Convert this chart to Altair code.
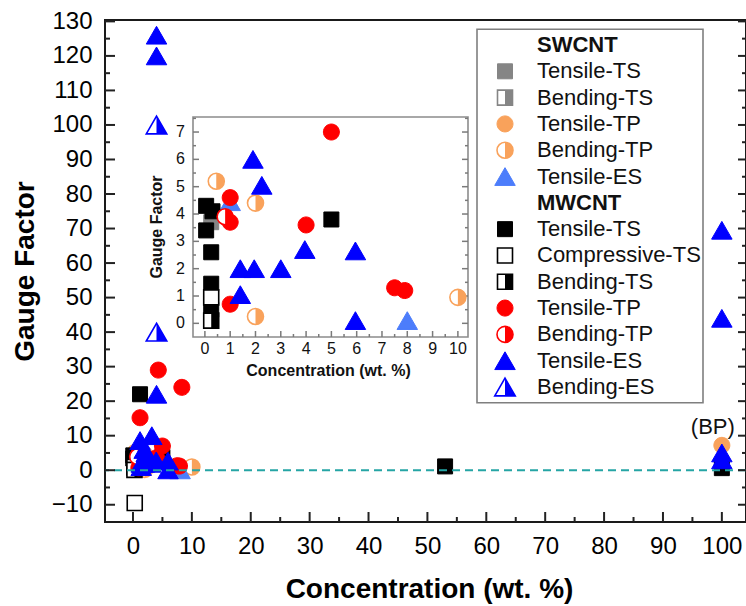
import altair as alt
import pandas as pd

# Gauge factor vs. CNT concentration (wt. %) by composite type and loading mode.
# --- SWCNT composites ---
SW_TENSILE_TS_X = [0.25]
SW_TENSILE_TS_Y = [3.7]
SW_BENDING_TS_X = []
SW_BENDING_TS_Y = []
SW_TENSILE_TP_X = [100]
SW_TENSILE_TP_Y = [7.2]
SW_BENDING_TP_X = [0.45, 2.0, 2.0, 10.0]
SW_BENDING_TP_Y = [5.2, 4.4, 0.25, 0.95]
SW_TENSILE_ES_X = [1.0, 8.0]
SW_TENSILE_ES_Y = [4.45, 0.1]
# --- MWCNT composites ---
MW_TENSILE_TS_X = [0.05, 0.3, 0.05, 0.25, 0.25, 0.25, 5.0, 1.2, 53, 100]
MW_TENSILE_TS_Y = [4.3, 4.1, 3.4, 2.6, 1.45, 0.5, 3.8, 22, 1.1, 0.6]
MW_COMPRESSIVE_TS_X = [0.25, 0.3]
MW_COMPRESSIVE_TS_Y = [0.95, -9.5]
MW_BENDING_TS_X = [0.25]
MW_BENDING_TS_Y = [0.1]
MW_TENSILE_TP_X = [1.0, 1.0, 4.0, 5.0, 1.0, 7.5, 7.9, 1.2, 4.3, 8.3]
MW_TENSILE_TP_Y = [4.6, 3.7, 3.6, 7.0, 0.7, 1.3, 1.2, 15.2, 29, 24]
MW_BENDING_TP_X = [0.8]
MW_BENDING_TP_Y = [3.9]
MW_TENSILE_ES_X = [1.9, 2.25, 1.4, 1.95, 3.0, 1.4, 3.95, 5.95, 5.95,
                   4, 4, 4, 1.2, 3.2, 100, 100, 100, 100]
MW_TENSILE_ES_Y = [6.0, 5.05, 2.0, 2.0, 2.0, 1.05, 2.7, 2.65, 0.1,
                   126, 120, 22, 8.6, 10, 69.5, 44, 5, 3]
MW_BENDING_ES_X = [4, 4]
MW_BENDING_ES_Y = [100, 40]

# annotation for the bulk-polymer (BP) column
NOTE_X = [100]
NOTE_Y = [12.4]
NOTE_TEXT = ["(BP)"]

# axis ticks
X_MAJOR = list(range(0, 101, 10))
X_MINOR = list(range(5, 100, 10))
Y_MAJOR = list(range(-10, 131, 10))
Y_MINOR = list(range(-5, 126, 10))
INSET_X_MAJOR = list(range(0, 11))
INSET_X_MINOR = [i + 0.5 for i in range(0, 10)]
INSET_Y_MAJOR = list(range(0, 8))
INSET_Y_MINOR = [i + 0.5 for i in range(0, 8)]

# colours
GREY = "#858585"
ORANGE = "#F9A25B"
LIGHT_BLUE = "#4C7DFB"
BLACK = "#000000"
RED = "#FF0000"
BLUE = "#0000FF"

# group, label, marker, colour, fill style, x values, y values
SERIES = [
    ("SWCNT", "Tensile-TS", "square", GREY, "full", SW_TENSILE_TS_X, SW_TENSILE_TS_Y),
    ("SWCNT", "Bending-TS", "square", GREY, "half", SW_BENDING_TS_X, SW_BENDING_TS_Y),
    ("SWCNT", "Tensile-TP", "circle", ORANGE, "full", SW_TENSILE_TP_X, SW_TENSILE_TP_Y),
    ("SWCNT", "Bending-TP", "circle", ORANGE, "half", SW_BENDING_TP_X, SW_BENDING_TP_Y),
    ("SWCNT", "Tensile-ES", "triangle", LIGHT_BLUE, "full", SW_TENSILE_ES_X, SW_TENSILE_ES_Y),
    ("MWCNT", "Tensile-TS", "square", BLACK, "full", MW_TENSILE_TS_X, MW_TENSILE_TS_Y),
    ("MWCNT", "Compressive-TS", "square", BLACK, "open", MW_COMPRESSIVE_TS_X, MW_COMPRESSIVE_TS_Y),
    ("MWCNT", "Bending-TS", "square", BLACK, "half", MW_BENDING_TS_X, MW_BENDING_TS_Y),
    ("MWCNT", "Tensile-TP", "circle", RED, "full", MW_TENSILE_TP_X, MW_TENSILE_TP_Y),
    ("MWCNT", "Bending-TP", "circle", RED, "half", MW_BENDING_TP_X, MW_BENDING_TP_Y),
    ("MWCNT", "Tensile-ES", "triangle", BLUE, "full", MW_TENSILE_ES_X, MW_TENSILE_ES_Y),
    ("MWCNT", "Bending-ES", "triangle", BLUE, "half", MW_BENDING_ES_X, MW_BENDING_ES_Y),
]

# marker outlines (unit coordinates) and their right-half fills
SHAPES = {
    "square": ("M -1 -1 L 1 -1 L 1 1 L -1 1 Z", "M 0 -1 L 1 -1 L 1 1 L 0 1 Z"),
    "circle": ("M -1 0 A 1 1 0 1 1 1 0 A 1 1 0 1 1 -1 0 Z", "M 0 -1 A 1 1 0 0 1 0 1 Z"),
    "triangle": ("M 0 -0.866 L 1 0.866 L -1 0.866 Z", "M 0 -0.866 L 1 0.866 L 0 0.866 Z"),
}
SIZES = {"square": 225, "circle": 256, "triangle": 420}

FONT = "Liberation Sans"
W, H = 641, 502

rows = []
for grp, lab, _, _, _, xs, ys in SERIES:
    for x, y in zip(xs, ys):
        rows.append({"name": f"{grp} {lab}", "x": x, "y": y})
points = pd.DataFrame(rows, columns=["name", "x", "y"])


def marker_layers(base, x_enc, y_enc, x_field=True):
    """One or two point layers per series (outline + half fill)."""
    layers = []
    for grp, lab, marker, colour, style, _, _ in SERIES:
        key = f"{grp} {lab}"
        full, half = SHAPES[marker]
        size = SIZES[marker]
        sub = base.transform_filter(alt.datum.name == key)
        if style == "full":
            mk = sub.mark_point(shape=full, size=size, filled=True, fill=colour,
                                stroke=colour, strokeWidth=1, opacity=1)
            layers.append(mk.encode(x=x_enc, y=y_enc))
        else:
            mk = sub.mark_point(shape=full, size=size, filled=True, fill="white",
                                stroke=colour, strokeWidth=1.6, opacity=1)
            layers.append(mk.encode(x=x_enc, y=y_enc))
            if style == "half":
                hk = sub.mark_point(shape=half, size=size, filled=True, fill=colour,
                                    strokeWidth=0, opacity=1)
                layers.append(hk.encode(x=x_enc, y=y_enc))
    return layers


# ---------------- main panel ----------------
main_x = alt.Scale(domain=[-4.75, 104.1], nice=False, zero=False)
main_y = alt.Scale(domain=[-15, 130.4], nice=False, zero=False)
x_axis = alt.Axis(values=X_MAJOR, ticks=False, domain=False, grid=False,
                  labelFontSize=24, labelPadding=12, labelColor="black",
                  labelFlush=False, labelOverlap=False,
                  title="Concentration (wt. %)", titleFontSize=28,
                  titleFontWeight="bold", titleColor="black",
                  titleX=324, titleY=75, titleBaseline="alphabetic")
y_axis = alt.Axis(values=Y_MAJOR, ticks=False, domain=False, grid=False,
                  labelFontSize=24, labelPadding=13, labelColor="black",
                  labelFlush=False, labelOverlap=False,
                  title="Gauge Factor", titleFontSize=28, titleFontWeight="bold",
                  titleColor="black", titleAngle=270, titleX=-72, titleY=H / 2,
                  titleBaseline="alphabetic")

MX = alt.X("x:Q", scale=main_x, axis=x_axis)
MY = alt.Y("y:Q", scale=main_y, axis=y_axis)

main_points = marker_layers(alt.Chart(points), MX, MY)

zero_line = alt.Chart(pd.DataFrame({"y": [0]})).mark_rule(
    color="#25A5A5", strokeWidth=2, strokeDash=[8, 5]).encode(y=MY)


def yticks(vals, x0, x1, colour, width, scale, axis):
    return alt.Chart(pd.DataFrame({"y": vals})).mark_rule(
        color=colour, strokeWidth=width).encode(
        y=alt.Y("y:Q", scale=scale, axis=axis), x=alt.value(x0), x2=alt.value(x1))


def xticks(vals, y0, y1, colour, width, scale, axis):
    return alt.Chart(pd.DataFrame({"x": vals})).mark_rule(
        color=colour, strokeWidth=width).encode(
        x=alt.X("x:Q", scale=scale, axis=axis), y=alt.value(y0), y2=alt.value(y1))


TICK_C = "#222222"
main_ticks = [
    yticks(Y_MAJOR, 0, 10, TICK_C, 2, main_y, y_axis),
    yticks(Y_MINOR, 0, 5, TICK_C, 2, main_y, y_axis),
    yticks(Y_MAJOR, W, W - 8, TICK_C, 2, main_y, y_axis),
    yticks(Y_MINOR, W, W - 4, TICK_C, 2, main_y, y_axis),
    xticks(X_MAJOR, H, H - 10, TICK_C, 2, main_x, x_axis),
    xticks(X_MINOR, H, H - 5, TICK_C, 2, main_x, x_axis),
]

note = alt.Chart(pd.DataFrame({"x": NOTE_X, "y": NOTE_Y, "t": NOTE_TEXT})).mark_text(
    fontSize=22, dx=-9, color="#111111", baseline="middle").encode(x=MX, y=MY, text="t:N")

main = alt.layer(*main_points, zero_line, *main_ticks, note)

# ---------------- inset (zoom on low concentration) ----------------
IN_L, IN_R, IN_T, IN_B = 88, 363, 97, 317
IN_XDOM = [-0.47, 10.4]
IN_YDOM = [-0.5, 7.55]
inset_x = alt.Scale(domain=IN_XDOM, range=[IN_L, IN_R], nice=False, zero=False)
inset_y = alt.Scale(domain=IN_YDOM, range=[IN_B, IN_T], nice=False, zero=False)
IX = alt.X("x:Q", scale=inset_x, axis=None)
IY = alt.Y("y:Q", scale=inset_y, axis=None)

frame = alt.Chart(pd.DataFrame({"x": [IN_XDOM[0]], "x2": [IN_XDOM[1]],
                                "y": [IN_YDOM[0]], "y2": [IN_YDOM[1]]})).mark_rect(
    fill="white", stroke="#8C8C8C", strokeWidth=1.6).encode(x=IX, x2="x2:Q", y=IY, y2="y2:Q")

INSET_C = "#7A7A7A"
inset_ticks = [
    yticks(INSET_Y_MAJOR, IN_L, IN_L + 6, INSET_C, 1.5, inset_y, None),
    yticks(INSET_Y_MINOR, IN_L, IN_L + 3, INSET_C, 1.5, inset_y, None),
    yticks(INSET_Y_MAJOR, IN_R, IN_R - 6, INSET_C, 1.5, inset_y, None),
    yticks(INSET_Y_MINOR, IN_R, IN_R - 3, INSET_C, 1.5, inset_y, None),
    xticks(INSET_X_MAJOR, IN_B, IN_B - 6, INSET_C, 1.5, inset_x, None),
    xticks(INSET_X_MINOR, IN_B, IN_B - 3, INSET_C, 1.5, inset_x, None),
]

inset_base = alt.Chart(points).transform_filter(
    alt.FieldRangePredicate(field="x", range=IN_XDOM)).transform_filter(
    alt.FieldRangePredicate(field="y", range=IN_YDOM))
inset_points = marker_layers(inset_base, IX, IY)

inset_xlabels = alt.Chart(pd.DataFrame({"x": INSET_X_MAJOR})).mark_text(
    fontSize=16, baseline="middle", color="#111111").encode(
    x=IX, y=alt.value(IN_B + 12), text="x:Q")
inset_ylabels = alt.Chart(pd.DataFrame({"y": INSET_Y_MAJOR})).mark_text(
    fontSize=16, align="right", baseline="middle", color="#111111").encode(
    y=IY, x=alt.value(IN_L - 8), text="y:Q")
inset_xtitle = alt.Chart(pd.DataFrame({"t": ["Concentration (wt. %)"]})).mark_text(
    fontSize=16, fontWeight="bold", baseline="middle", color="#111111").encode(
    x=alt.value((IN_L + IN_R) / 2 - 2), y=alt.value(IN_B + 34), text="t:N")
inset_ytitle = alt.Chart(pd.DataFrame({"t": ["Gauge Factor"]})).mark_text(
    fontSize=16, fontWeight="bold", baseline="middle", angle=270, color="#111111").encode(
    x=alt.value(IN_L - 36), y=alt.value((IN_T + IN_B) / 2), text="t:N")

inset = alt.layer(frame, *inset_ticks, *inset_points,
                  inset_xlabels, inset_ylabels, inset_xtitle, inset_ytitle)

# ---------------- legend ----------------
legend_y = alt.Scale(domain=[0, 13], range=[25, 367], nice=False, zero=False)
LY = alt.Y("row:Q", scale=legend_y, axis=None)

leg_rows, head_rows = [], []
r = 0
for grp in ["SWCNT", "MWCNT"]:
    head_rows.append({"label": grp, "row": r})
    r += 1
    for g, lab, *_ in SERIES:
        if g == grp:
            leg_rows.append({"name": f"{g} {lab}", "label": lab, "row": r})
            r += 1
legend_df = pd.DataFrame(leg_rows)
header_df = pd.DataFrame(head_rows)

box = alt.Chart(pd.DataFrame({"row": [-0.6], "row2": [13.6]})).mark_rect(
    fill="white", stroke="#7F7F7F", strokeWidth=1.6).encode(
    x=alt.value(372), x2=alt.value(598), y=LY, y2="row2:Q")
legend_syms = marker_layers(alt.Chart(legend_df), alt.value(400), LY)
legend_text = alt.Chart(legend_df).mark_text(
    fontSize=22, align="left", baseline="middle", color="#111111").encode(
    x=alt.value(432), y=LY, text="label:N")
legend_head = alt.Chart(header_df).mark_text(
    fontSize=22, fontWeight="bold", align="left", baseline="middle", color="#111111").encode(
    x=alt.value(432), y=LY, text="label:N")

legend = alt.layer(box, *legend_syms, legend_text, legend_head)

chart = alt.layer(main, inset, legend).resolve_scale(
    x="independent", y="independent"
).properties(
    width=W, height=H,
    padding={"left": 105, "top": 20, "right": 0, "bottom": 84},
    autosize=alt.AutoSizeParams(type="none"),
    background="white",
).configure_view(
    stroke="#1A1A1A", strokeWidth=2
).configure_axis(
    labelFont=FONT, titleFont=FONT
).configure_text(
    font=FONT
)

chart.save("out.html", embed_options={"renderer": "svg", "actions": False})
